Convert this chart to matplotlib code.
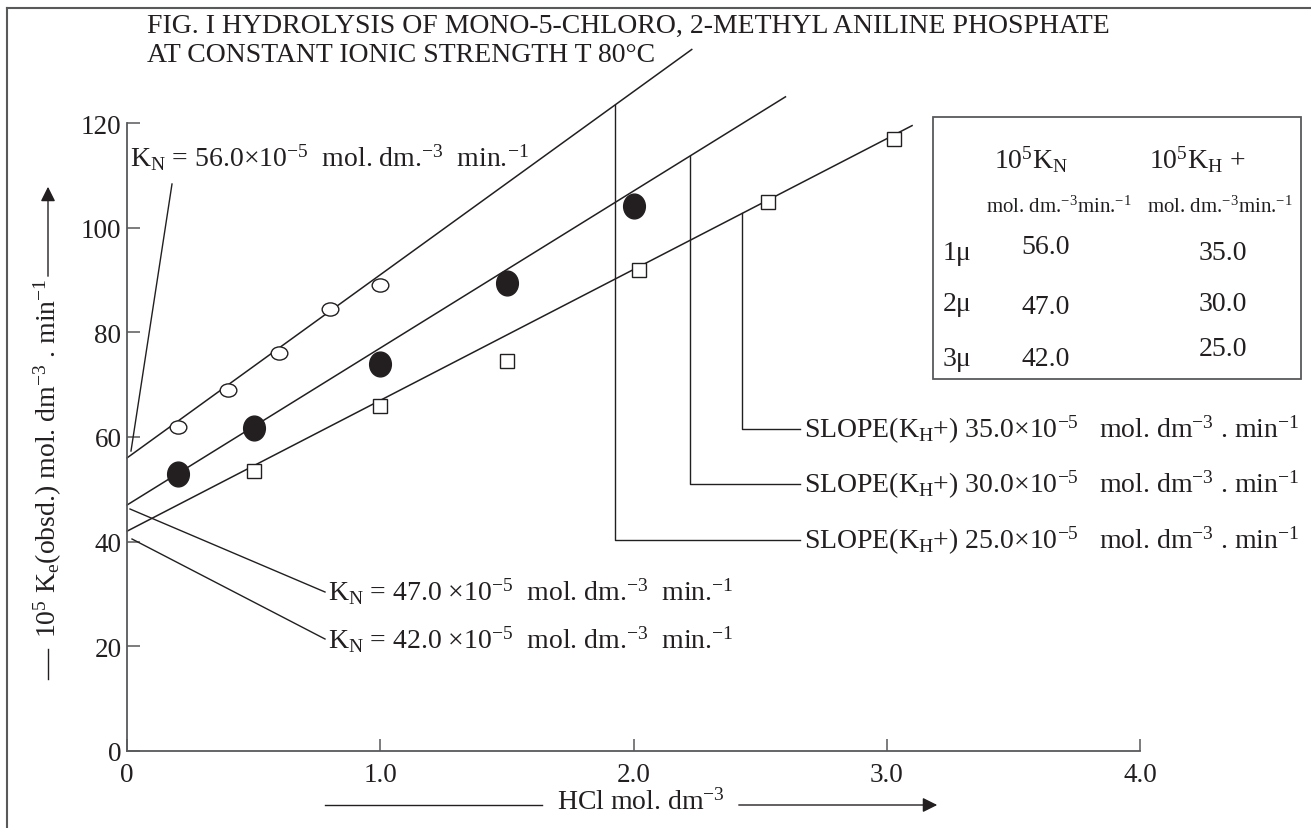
import matplotlib
matplotlib.use("Agg")
import matplotlib.pyplot as plt
from matplotlib.lines import Line2D
from matplotlib.patches import Rectangle, FancyArrowPatch
from matplotlib.markers import MarkerStyle
from matplotlib.transforms import Affine2D

plt.rcParams['font.family'] = ['Liberation Serif', 'DejaVu Serif']
plt.rcParams['mathtext.fontset'] = 'custom'
plt.rcParams['mathtext.rm'] = 'Liberation Serif'
plt.rcParams['mathtext.it'] = 'Liberation Serif:italic'
plt.rcParams['mathtext.bf'] = 'Liberation Serif:bold'

INK = '#231f20'
AXC = '#58595b'

# ---------------- data ----------------
x_1mu = [0.2, 0.4, 0.6, 0.8, 1.0]
y_1mu = [62.0, 69.0, 76.0, 84.5, 89.0]
x_2mu = [0.2, 0.5, 1.0, 1.5, 2.0]
y_2mu = [53.0, 61.7, 74.0, 89.5, 104.2]
x_3mu = [0.5, 1.0, 1.5, 2.02, 2.53, 3.03]
y_3mu = [53.5, 66.0, 74.5, 92.0, 105.0, 117.0]

kn_vals = [56.0, 47.0, 42.0]          # intercepts
kh_vals = [35.0, 30.0, 25.0]          # slopes
line_xmax = [2.23, 2.6, 3.1]          # extent of the fitted lines

xticks = [0, 1, 2, 3, 4]
xtick_labels = ['0', '1.0', '2.0', '3.0', '4.0']
yticks = [0, 20, 40, 60, 80, 100, 120]
ytick_labels = ['0', '20', '40', '60', '80', '100', '120']

W, H = 1311, 829
fig = plt.figure(figsize=(W / 100, H / 100), dpi=100)

def fx(px):
    return px / W

def fy(py):
    return 1 - py / H

x0p, x4p, y0p, y120p = 127, 1140, 752, 124
ax = fig.add_axes([fx(x0p), fy(y0p), (x4p - x0p) / W, (y0p - y120p) / H])
ax.set_xlim(0, 4)
ax.set_ylim(0, 120)
for s in ['top', 'right']:
    ax.spines[s].set_visible(False)
for s in ['left', 'bottom']:
    ax.spines[s].set_color(AXC)
    ax.spines[s].set_linewidth(1.3)
ax.set_xticks(xticks)
ax.set_xticklabels(xtick_labels)
ax.set_yticks(yticks)
ax.set_yticklabels(ytick_labels)
ax.tick_params(direction='in', length=9, width=1.1, color=AXC,
               labelsize=19.5, labelcolor=INK)
ax.tick_params(axis='x', pad=8)
ax.tick_params(axis='y', pad=4)
ax.patch.set_visible(False)

# fitted lines
for kn, kh, xm in zip(kn_vals, kh_vals, line_xmax):
    ax.plot([0, xm], [kn, kn + kh * xm], color=INK, lw=1.1, clip_on=False)

# data points (slightly elliptical markers as in the print)
m_open = MarkerStyle('o', transform=Affine2D().scale(1.2, 0.95))
m_fill = MarkerStyle('o', transform=Affine2D().scale(0.92, 1.05))
ax.plot(x_1mu, y_1mu, ls='none', marker=m_open, ms=10, mfc='white', mec=INK, mew=1.0,
        clip_on=False, zorder=5)
ax.plot(x_2mu, y_2mu, ls='none', marker=m_fill, ms=17, mfc=INK, mec=INK,
        clip_on=False, zorder=5)
ax.plot(x_3mu, y_3mu, 's', ms=10, mfc='white', mec=INK, mew=1.0, clip_on=False, zorder=5)

def pline(xs, ys, lw=1.0, color=INK):
    fig.add_artist(Line2D([fx(v) for v in xs], [fy(v) for v in ys],
                          transform=fig.transFigure, color=color, lw=lw))

def ptext(px, py, s, size=20, ha='left', va='center', **kw):
    fig.text(fx(px), fy(py), s, fontsize=size, ha=ha, va=va, color=INK, **kw)

# figure frame
pline([7, 7], [9, 829], lw=1.5, color=AXC)
pline([7, 1311], [9, 9], lw=1.5, color=AXC)

# title
ptext(147, 26, 'FIG. I HYDROLYSIS OF MONO-5-CHLORO, 2-METHYL ANILINE PHOSPHATE', size=20)
ptext(147, 55, 'AT CONSTANT IONIC STRENGTH T 80°C', size=20)

# K_N annotations
ptext(130, 158, r'K$_\mathrm{N}$ = 56.0×10$^{-5}$  mol. dm.$^{-3}$  min.$^{-1}$', size=20)
pline([172, 131], [185, 452])
ptext(328, 592, r'K$_\mathrm{N}$ = 47.0 ×10$^{-5}$  mol. dm.$^{-3}$  min.$^{-1}$', size=20)
pline([130, 325], [510, 593])
ptext(328, 640, r'K$_\mathrm{N}$ = 42.0 ×10$^{-5}$  mol. dm.$^{-3}$  min.$^{-1}$', size=20)
pline([132, 325], [540, 640])

def ypix(yd):
    return y0p - yd * (y0p - y120p) / 120

leaders = [(615, 0, 541, '25.0'), (690, 1, 485, '30.0'), (742, 2, 430, '35.0')]
for xp, li, ybot, lab in leaders:
    xd = (xp - x0p) / (x4p - x0p) * 4
    ytop = ypix(kn_vals[li] + kh_vals[li] * xd)
    pline([xp, xp, 800], [ytop, ybot, ybot])
    ptext(804, ybot, r'SLOPE(K$_\mathrm{H}$+) ' + lab + r'×10$^{-5}$   mol. dm$^{-3}$ . min$^{-1}$', size=20)

# table box
fig.add_artist(Rectangle((fx(933), fy(380)), (1301 - 933) / W, (380 - 118) / H,
                         transform=fig.transFigure, fill=False, ec=AXC, lw=1.3))
ptext(1031, 160, r'10$^5$K$_\mathrm{N}$', size=20, ha='center')
ptext(1197, 160, r'10$^5$K$_\mathrm{H}$ +', size=20, ha='center')
ptext(1059, 207, r'mol. dm.$^{-3}$min.$^{-1}$', size=15, ha='center')
ptext(1220, 207, r'mol. dm.$^{-3}$min.$^{-1}$', size=15, ha='center')
rows_y = [253, 305, 360]
kn_dy = [-5, 2, 0]
kh_dy = [0, 0, -10]
for i, (kn, kh) in enumerate(zip(kn_vals, kh_vals)):
    ptext(943, rows_y[i], f'{i + 1}μ', size=20)
    ptext(1046, rows_y[i] + kn_dy[i], f'{kn:.1f}', size=20, ha='center')
    ptext(1223, rows_y[i] + kh_dy[i], f'{kh:.1f}', size=20, ha='center')

# y-axis label with arrow
fig.text(fx(48), fy(458), r'10$^5$ K$_\mathrm{e}$(obsd.) mol. dm$^{-3}$ . min$^{-1}$',
         rotation=90, fontsize=20, ha='center', va='center', color=INK)
pline([48, 48], [650, 680])
fig.add_artist(FancyArrowPatch((fx(48), fy(280)), (fx(48), fy(185)),
               transform=fig.transFigure, arrowstyle='-|>', mutation_scale=22,
               color=INK, lw=1.0))

# x-axis label with arrow
ptext(641, 802, r'HCl mol. dm$^{-3}$', size=20, ha='center')
pline([325, 542], [806, 806])
fig.add_artist(FancyArrowPatch((fx(736), fy(806)), (fx(940), fy(806)),
               transform=fig.transFigure, arrowstyle='-|>', mutation_scale=22,
               color=INK, lw=1.0))

fig.savefig('out.png', dpi=100)
